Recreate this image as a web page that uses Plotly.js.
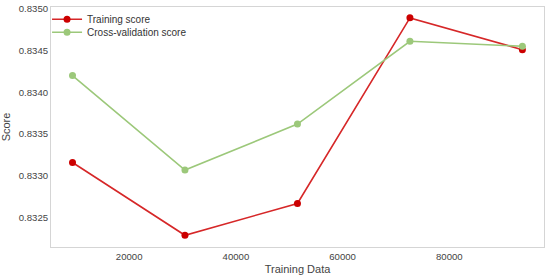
<!DOCTYPE html>
<html>
<head>
<meta charset="utf-8">
<script src="https://cdn.plot.ly/plotly-3.0.1.min.js"></script>
<style>
  html, body { margin: 0; padding: 0; background: #fff; }
  #chart { width: 550px; height: 278px; }
</style>
</head>
<body>
<div id="chart"></div>
<script>
// learning curve values
const trainSizes = [9370, 30450, 51535, 72620, 93700];
const trainScore = [0.83316, 0.83229, 0.83267, 0.83489, 0.83451];
const cvScore = [0.83420, 0.83307, 0.83362, 0.83461, 0.83455];
const yTicks = [0.8325, 0.8330, 0.8335, 0.8340, 0.8345, 0.8350];
const xTicks = [20000, 40000, 60000, 80000];

const fontFamily = 'Liberation Sans, Arial, sans-serif';

const traces = [
    {
        x: trainSizes,
        y: trainScore,
        mode: 'lines+markers',
        name: 'Training score',
        legend: 'legend',
        line: { color: '#d62728', width: 1.6 },
        marker: { color: '#cc0000', size: 7 }
    },
    {
        x: trainSizes,
        y: cvScore,
        mode: 'lines+markers',
        name: 'Cross-validation score',
        legend: 'legend2',
        line: { color: '#9cc87a', width: 1.6 },
        marker: { color: '#9cc87a', size: 7 }
    }
];

const axisFont = { family: fontFamily, size: 9.6, color: '#444' };
const legendFont = { family: fontFamily, size: 10, color: '#333' };

// two legends so the rows can sit as close as in the original
const legendBase = {
    x: -0.008, xanchor: 'left', yanchor: 'top',
    bgcolor: 'rgba(0,0,0,0)',
    font: legendFont,
    itemwidth: 30
};

const layout = {
    width: 550,
    height: 278,
    margin: { l: 51, r: 6, t: 6, b: 31 },
    paper_bgcolor: '#fff',
    plot_bgcolor: '#fff',
    showlegend: true,
    legend: Object.assign({}, legendBase, { y: 1.005 }),
    legend2: Object.assign({}, legendBase, { y: 1.005 - 13 / 241 }),
    xaxis: {
        range: [5340, 97750],
        tickvals: xTicks,
        ticktext: xTicks.map(String),
        showgrid: false,
        zeroline: false,
        showline: true,
        mirror: true,
        linecolor: '#d5d5d5',
        linewidth: 1,
        ticks: '',
        tickfont: axisFont,
        title: { text: 'Training Data', font: { family: fontFamily, size: 11, color: '#444' }, standoff: 4 }
    },
    yaxis: {
        range: [0.83215, 0.83502],
        tickvals: yTicks,
        ticktext: yTicks.map(v => v.toFixed(4)),
        showgrid: false,
        zeroline: false,
        showline: true,
        mirror: true,
        linecolor: '#d5d5d5',
        linewidth: 1,
        ticks: '',
        tickfont: axisFont,
        title: { text: 'Score', font: { family: fontFamily, size: 11, color: '#444' }, standoff: 6 }
    }
};

Plotly.newPlot('chart', traces, layout, { displayModeBar: false, staticPlot: true });
</script>
</body>
</html>
